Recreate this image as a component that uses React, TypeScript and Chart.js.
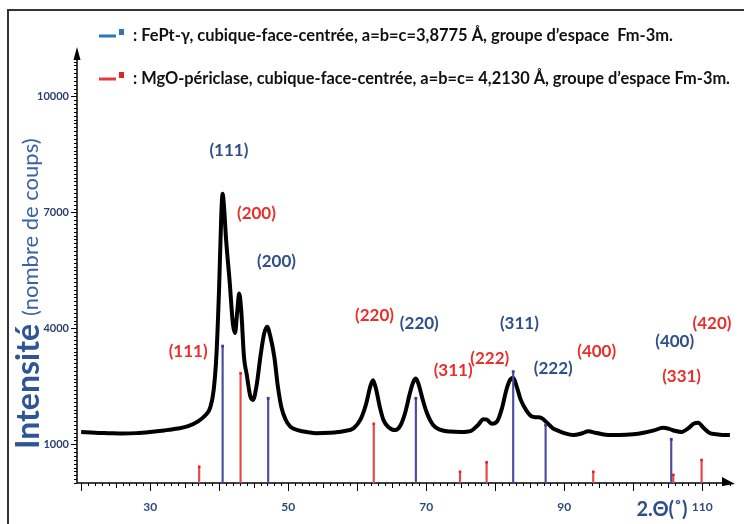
import React, { useEffect, useRef } from 'react';
import { Chart, registerables } from 'chart.js';

Chart.register(...registerables);

// XRD pattern (2θ in degrees, counts)
const twoTheta = [20, 22, 24, 26, 28, 30, 32, 34, 35.5, 37, 38, 38.7, 39.2, 39.6, 40.0, 40.3, 40.5, 40.7, 41.0, 41.5, 42.0, 42.3, 42.6, 42.9, 43.2, 43.6, 44.0, 44.5, 44.9, 45.4, 46.0, 46.5, 46.95, 47.4, 48.0, 48.5, 49.0, 49.6, 50.3, 51.5, 53, 54, 56, 58, 59.5, 60.5, 61.3, 61.9, 62.3, 62.7, 63.3, 63.8, 64.5, 65.5, 66.3, 67.0, 67.6, 68.1, 68.5, 68.9, 69.5, 70.1, 71, 72, 73.5, 75, 76.5, 77.5, 78.3, 78.8, 79.5, 80.3, 81.0, 81.6, 82.1, 82.6, 83.1, 83.7, 84.5, 85.3, 86.0, 86.7, 87.5, 88.3, 89, 90, 91.3, 92.5, 93.5, 94.5, 96, 98, 100, 101.5, 103, 104.3, 105.2, 106, 107, 108, 108.8, 109.4, 110.2, 111, 112, 113, 114];
const intensity = [1320, 1300, 1290, 1280, 1290, 1320, 1360, 1410, 1470, 1600, 1750, 1950, 2400, 3300, 5100, 6900, 7480, 7150, 6300, 5250, 4100, 3880, 4400, 4900, 4450, 3250, 2800, 2250, 2150, 2500, 3300, 3850, 4040, 3800, 3250, 2500, 1970, 1650, 1460, 1360, 1310, 1290, 1300, 1340, 1420, 1650, 2050, 2500, 2660, 2450, 1950, 1630, 1450, 1370, 1500, 1850, 2300, 2600, 2700, 2550, 2150, 1810, 1500, 1380, 1330, 1320, 1350, 1500, 1650, 1640, 1530, 1600, 1950, 2400, 2650, 2720, 2500, 2150, 1880, 1720, 1700, 1680, 1560, 1420, 1360, 1290, 1240, 1280, 1340, 1300, 1250, 1240, 1260, 1300, 1360, 1430, 1400, 1350, 1320, 1420, 1540, 1560, 1420, 1300, 1260, 1240, 1240];

// Reference patterns (stick positions / heights)
const fePtPos = [40.5, 47.1, 68.5, 82.6, 87.3, 105.5];
const fePtHeight = [3540, 2190, 2190, 2880, 1500, 1130];
const mgoPos = [37.1, 43.1, 62.4, 74.9, 78.75, 94.2, 105.8, 109.9];
const mgoHeight = [420, 2840, 1530, 290, 535, 290, 210, 595];

// hkl annotations
const fePtLabels = ['(111)', '(200)', '(220)', '(311)', '(222)', '(400)'];
const fePtLabelX = [41.4, 48.3, 69.0, 83.5, 88.4, 106.0];
const fePtLabelY = [8610, 5720, 4130, 4130, 2970, 3650];
const mgoLabels = ['(111)', '(200)', '(220)', '(311)', '(222)', '(400)', '(331)', '(420)'];
const mgoLabelX = [35.5, 45.4, 62.5, 73.9, 79.2, 94.7, 107.0, 111.4];
const mgoLabelY = [3410, 6980, 4340, 2920, 3230, 3410, 2750, 4130];

// axes
const xTickValues = [30, 50, 70, 90, 110];
const yTickValues = [1000, 4000, 7000, 10000];
const xMin = 19.4;
const xMax = 114.45;
const yMin = 0;
const yMax = 11200;

const legendTexts = [
  ': FePt-γ, cubique-face-centrée, a=b=c=3,8775 Å, groupe d’espace  Fm-3m.',
  ': MgO-périclase, cubique-face-centrée, a=b=c= 4,2130 Å, groupe d’espace Fm-3m.',
];
const yTitleMain = 'Intensité';
const yTitleSub = '(nombre de coups)';
const xTitle = '2.Θ(˚)';

const BLUE_TEXT = '#2f4f8a';
const RED_TEXT = '#e8302a';
const FONT = 'Lato, "Liberation Sans", sans-serif';

const decorPlugin = {
  id: 'decor',
  beforeDatasetsDraw(chart: any) {
    const { ctx, chartArea, scales } = chart;
    const xs = scales.x;
    const ys = scales.y;
    ctx.save();
    // figure frame
    ctx.strokeStyle = '#333';
    ctx.lineWidth = 2;
    ctx.strokeRect(8, 10, 760, 540);

    ctx.strokeStyle = '#000';
    ctx.fillStyle = '#000';
    ctx.lineWidth = 1.5;
    const left = chartArea.left;
    const bottom = chartArea.bottom;
    // y axis line
    ctx.beginPath();
    ctx.moveTo(left, bottom);
    ctx.lineTo(left, chartArea.top + 6);
    ctx.stroke();
    ctx.beginPath();
    ctx.moveTo(left, chartArea.top - 3);
    ctx.lineTo(left - 3.5, chartArea.top + 10);
    ctx.lineTo(left + 3.5, chartArea.top + 10);
    ctx.closePath();
    ctx.fill();
    // y ticks
    ctx.lineWidth = 1;
    for (let v = 0; v <= 11000; v += 100) {
      const y = Math.round(ys.getPixelForValue(v)) + 0.5;
      const major = yTickValues.includes(v);
      ctx.beginPath();
      ctx.moveTo(left - (major ? 6 : 3), y);
      ctx.lineTo(left, y);
      ctx.stroke();
    }
    // x axis line
    ctx.lineWidth = 1.5;
    ctx.beginPath();
    ctx.moveTo(left, bottom);
    ctx.lineTo(chartArea.right - 8, bottom);
    ctx.stroke();
    ctx.beginPath();
    ctx.moveTo(chartArea.right + 2, bottom + 1);
    ctx.lineTo(chartArea.right - 11, bottom - 6);
    ctx.lineTo(chartArea.right - 11, bottom + 3);
    ctx.closePath();
    ctx.fill();
    // x ticks
    ctx.lineWidth = 1;
    for (let v = 20; v <= 114; v += 1) {
      const x = Math.round(xs.getPixelForValue(v)) + 0.5;
      const len = v % 10 === 0 ? 8 : v % 5 === 0 ? 5 : 3;
      ctx.beginPath();
      ctx.moveTo(x, bottom);
      ctx.lineTo(x, bottom + len);
      ctx.stroke();
    }
    ctx.restore();
  },
  afterDraw(chart: any) {
    const { ctx, scales } = chart;
    const xs = scales.x;
    const ys = scales.y;
    ctx.save();
    // hkl labels
    ctx.textAlign = 'center';
    ctx.textBaseline = 'middle';
    ctx.font = `bold 17px ${FONT}`;
    ctx.fillStyle = BLUE_TEXT;
    fePtLabels.forEach((t, i) => {
      ctx.fillText(t, xs.getPixelForValue(fePtLabelX[i]), ys.getPixelForValue(fePtLabelY[i]));
    });
    ctx.fillStyle = RED_TEXT;
    mgoLabels.forEach((t, i) => {
      ctx.fillText(t, xs.getPixelForValue(mgoLabelX[i]), ys.getPixelForValue(mgoLabelY[i]));
    });

    // legend
    const rows = [
      { y: 35, line: '#2e75b6', sq: '#2e75b6', w: 540 },
      { y: 78, line: '#e8383d', sq: '#e82020', w: 597 },
    ];
    ctx.textAlign = 'left';
    rows.forEach((r, i) => {
      ctx.strokeStyle = r.line;
      ctx.lineWidth = 3;
      ctx.beginPath();
      ctx.moveTo(99, r.y + 1);
      ctx.lineTo(116, r.y + 1);
      ctx.stroke();
      ctx.fillStyle = r.sq;
      ctx.fillRect(119, r.y - 6, 5, 6);
      ctx.fillStyle = '#111';
      ctx.font = `bold 16.5px ${FONT}`;
      ctx.fillText(legendTexts[i], 133, r.y + 1, r.w);
    });

    // y axis title
    ctx.save();
    ctx.translate(39, 449);
    ctx.rotate(-Math.PI / 2);
    ctx.textAlign = 'left';
    ctx.textBaseline = 'alphabetic';
    ctx.font = `bold 32px ${FONT}`;
    ctx.fillStyle = '#2f5597';
    ctx.fillText(yTitleMain, 0, 0);
    const w = ctx.measureText(yTitleMain).width;
    ctx.font = `22px ${FONT}`;
    ctx.fillStyle = '#3c63a6';
    ctx.fillText(yTitleSub, w + 8, -1);
    ctx.restore();

    // x axis title
    ctx.font = `bold 20px ${FONT}`;
    ctx.fillStyle = BLUE_TEXT;
    ctx.textAlign = 'center';
    ctx.textBaseline = 'middle';
    ctx.fillText(xTitle, 662, 510);
    ctx.restore();
  },
};

export default function App() {
  const ref = useRef<HTMLCanvasElement>(null);
  useEffect(() => {
    if (!ref.current) return;
    const curve = twoTheta.map((x, i) => ({ x, y: intensity[i] }));
    const fePtSticks = fePtPos.map((x, i) => ({ x, y: fePtHeight[i] }));
    const mgoSticks = mgoPos.map((x, i) => ({ x, y: mgoHeight[i] }));
    const chart = new Chart(ref.current, {
      type: 'line',
      data: {
        datasets: [
          {
            type: 'line',
            label: 'DRX',
            data: curve,
            borderColor: '#000',
            borderWidth: 4,
            pointRadius: 0,
            cubicInterpolationMode: 'monotone',
            borderJoinStyle: 'round',
            order: 3,
          } as any,
          {
            type: 'bar',
            label: 'FePt',
            data: fePtSticks,
            backgroundColor: '#4b4ba0',
            barThickness: 1.5,
            grouped: false,
            order: 2,
          } as any,
          {
            type: 'bar',
            label: 'MgO',
            data: mgoSticks,
            backgroundColor: '#e8474a',
            barThickness: 1.5,
            grouped: false,
            order: 2,
          } as any,
          {
            type: 'scatter',
            label: 'FePt top',
            data: fePtSticks,
            pointStyle: 'rect',
            pointRadius: 2,
            backgroundColor: '#3d3d99',
            borderWidth: 0,
            order: 1,
          } as any,
          {
            type: 'scatter',
            label: 'MgO top',
            data: mgoSticks,
            pointStyle: 'rect',
            pointRadius: 1.8,
            backgroundColor: '#e02020',
            borderWidth: 0,
            order: 1,
          } as any,
        ],
      },
      options: {
        responsive: false,
        animation: false,
        devicePixelRatio: 1,
        layout: { padding: { left: 0, top: 50, right: 11, bottom: 0 } },
        plugins: { legend: { display: false }, tooltip: { enabled: false } },
        scales: {
          x: {
            type: 'linear',
            min: xMin,
            max: xMax,
            offset: false,
            grid: { display: false, drawTicks: false },
            border: { display: false },
            afterBuildTicks: (s: any) => {
              s.ticks = xTickValues.map((v) => ({ value: v }));
            },
            afterFit: (s: any) => {
              s.height = 41;
            },
            ticks: {
              autoSkip: false,
              maxRotation: 0,
              padding: 17,
              color: '#2d4a80',
              font: { family: FONT, size: 12, weight: 'bold' },
              callback: (v: any) => String(v),
            },
          },
          y: {
            type: 'linear',
            min: yMin,
            max: yMax,
            grid: { display: false, drawTicks: false },
            border: { display: false },
            afterBuildTicks: (s: any) => {
              s.ticks = yTickValues.map((v) => ({ value: v }));
            },
            afterFit: (s: any) => {
              s.width = 77;
            },
            ticks: {
              autoSkip: false,
              padding: 8,
              color: '#2a3f6e',
              font: { family: FONT, size: 11, weight: 'bold' },
              callback: (v: any) => String(v),
            },
          },
        },
      } as any,
      plugins: [decorPlugin],
    });
    return () => chart.destroy();
  }, []);
  return (
    <div style={{ position: 'fixed', left: 0, top: 0, width: 744, height: 524, background: '#fff' }}>
      <canvas ref={ref} width={744} height={524} style={{ display: 'block', width: 744, height: 524 }} />
    </div>
  );
}
